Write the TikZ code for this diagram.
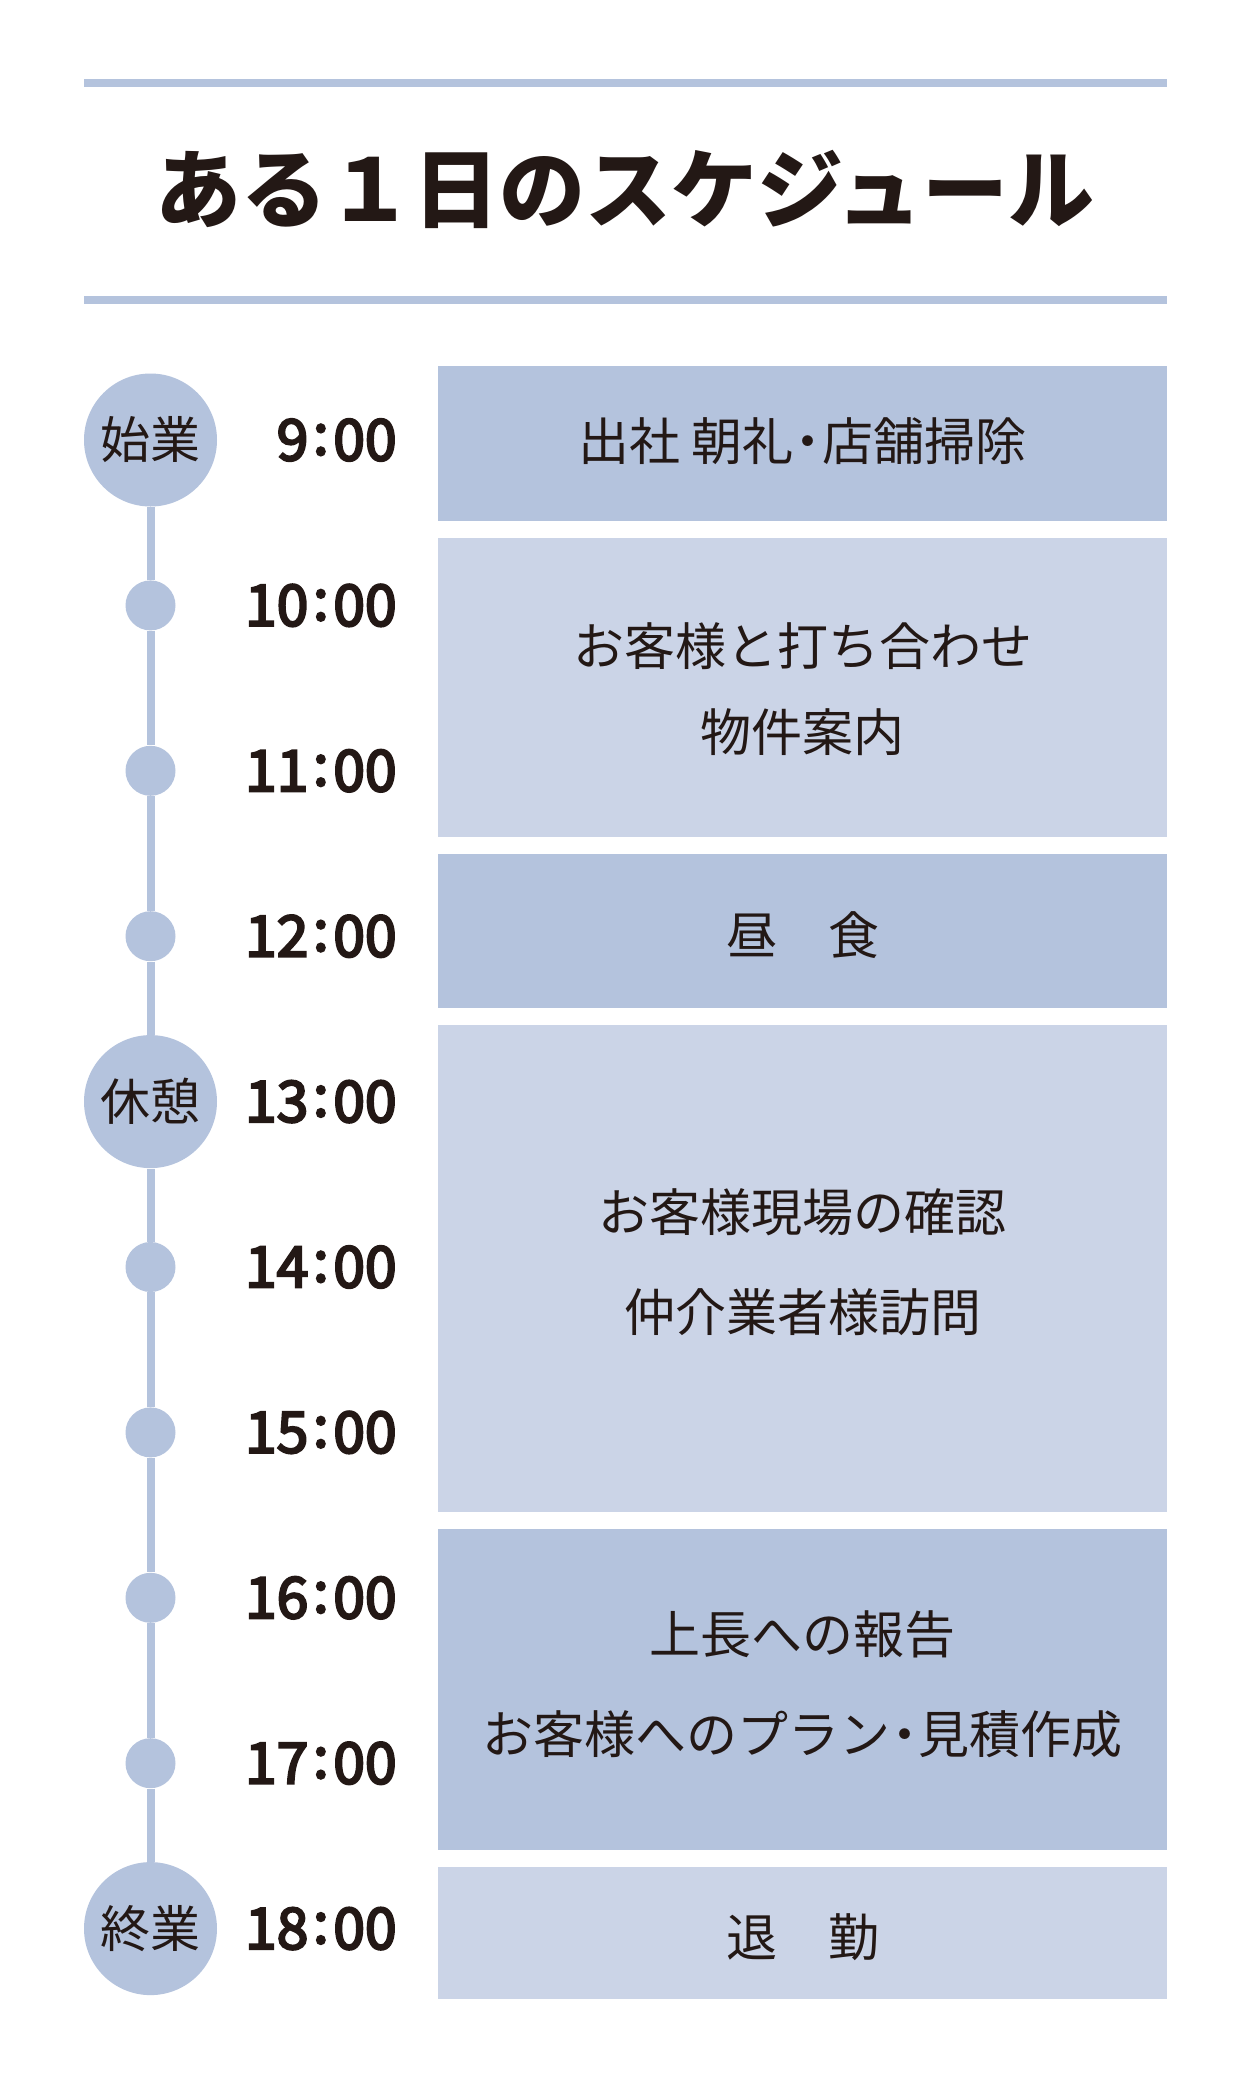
\documentclass[tikz,border=0pt]{standalone}
\usepackage{fontspec}
\setmainfont{Noto Sans CJK JP}
\newfontfamily\clockfont{Noto Sans CJK JP}[FakeBold=4]
\definecolor{ink}{HTML}{231815}
\definecolor{slate}{HTML}{B4C3DD}
\definecolor{slateSoft}{HTML}{CBD4E7}
\tikzset{
  plaintext/.style={inner sep=0pt,text=ink,align=center},
  task/.style={plaintext,font=\fontsize{25.5pt}{43pt}\selectfont},
  tasktall/.style={plaintext,font=\fontsize{25.5pt}{50pt}\selectfont}
}

\begin{document}
\begin{tikzpicture}[
    x=0.5pt,y=-0.5pt,
    rule/.style={line width=4pt,draw=slate},
    track/.style={line width=4pt,draw=slate},
    bigdot/.style={circle,fill=slate,minimum size=66.5pt,inner sep=0pt,text=ink,font=\fontsize{25pt}{25pt}\selectfont},
    hourdot/.style={circle,fill=slate,minimum size=25pt,inner sep=0pt},
    clock/.style={anchor=east,inner sep=0pt,text=ink,font=\clockfont\fontsize{28.5pt}{28.5pt}\selectfont},
    title/.style={inner sep=0pt,text=ink,font=\fontsize{43pt}{43pt}\selectfont\bfseries}
  ]
  \fill[white] (0,0) rectangle (1251,2084);
  \useasboundingbox (0,0) rectangle (1251,2084);

  % heading
  \draw[rule] (84,83) -- (1167,83);
  \draw[rule] (84,300) -- (1167,300);
  \node[title] (head) at (625,189) {ある１日のスケジュール};

  % schedule blocks
  \fill[slate] (438,366) rectangle (1167,521);
  \fill[slateSoft] (438,538) rectangle (1167,837);
  \fill[slate] (438,854) rectangle (1167,1008);
  \fill[slateSoft] (438,1025) rectangle (1167,1512);
  \fill[slate] (438,1529) rectangle (1167,1850);
  \fill[slateSoft] (438,1867) rectangle (1167,1999);

  \node[task] (t1) at (802.5,441) {出社 朝礼\kern-.22em・\kern-.22em 店舗掃除};
  \node[task] (t2) at (802.5,689) {お客様と打ち合わせ\\物件案内};
  \node[task] (t3) at (802.5,935) {昼　食};
  \node[tasktall] (t4) at (802.5,1262.5) {お客様現場の確認\\仲介業者様訪問};
  \node[tasktall] (t5) at (802.5,1684) {上長への報告\\お客様へのプラン\kern-.22em・\kern-.22em 見積作成};
  \node[task] (t6) at (802.5,1937) {退　勤};

  % timeline
  \foreach \k in {1,2,3,5,6,7,8} {
    \pgfmathsetmacro{\yy}{440+165.4*\k}
    \node[hourdot] (c\k) at (150.5,\yy) {};
  }
  \foreach \k/\lab in {0/始業,4/休憩,9/終業} {
    \pgfmathsetmacro{\yy}{440+165.4*\k}
    \node[bigdot] (c\k) at (150.5,\yy) {\lab};
  }
  \foreach \a/\b in {0/1,1/2,2/3,3/4,4/5,5/6,6/7,7/8,8/9} {
    \draw[track] (c\a) -- (c\b);
  }
  \foreach \k/\hr in {0/9,1/10,2/11,3/12,4/13,5/14,6/15,7/16,8/17,9/18} {
    \pgfmathsetmacro{\yy}{440+165.4*\k}
    \node[clock] (h\k) at (397,\yy) {\hr\kern.08em\raisebox{.1em}{:}\kern.08em 00};
  }
\end{tikzpicture}
\end{document}
